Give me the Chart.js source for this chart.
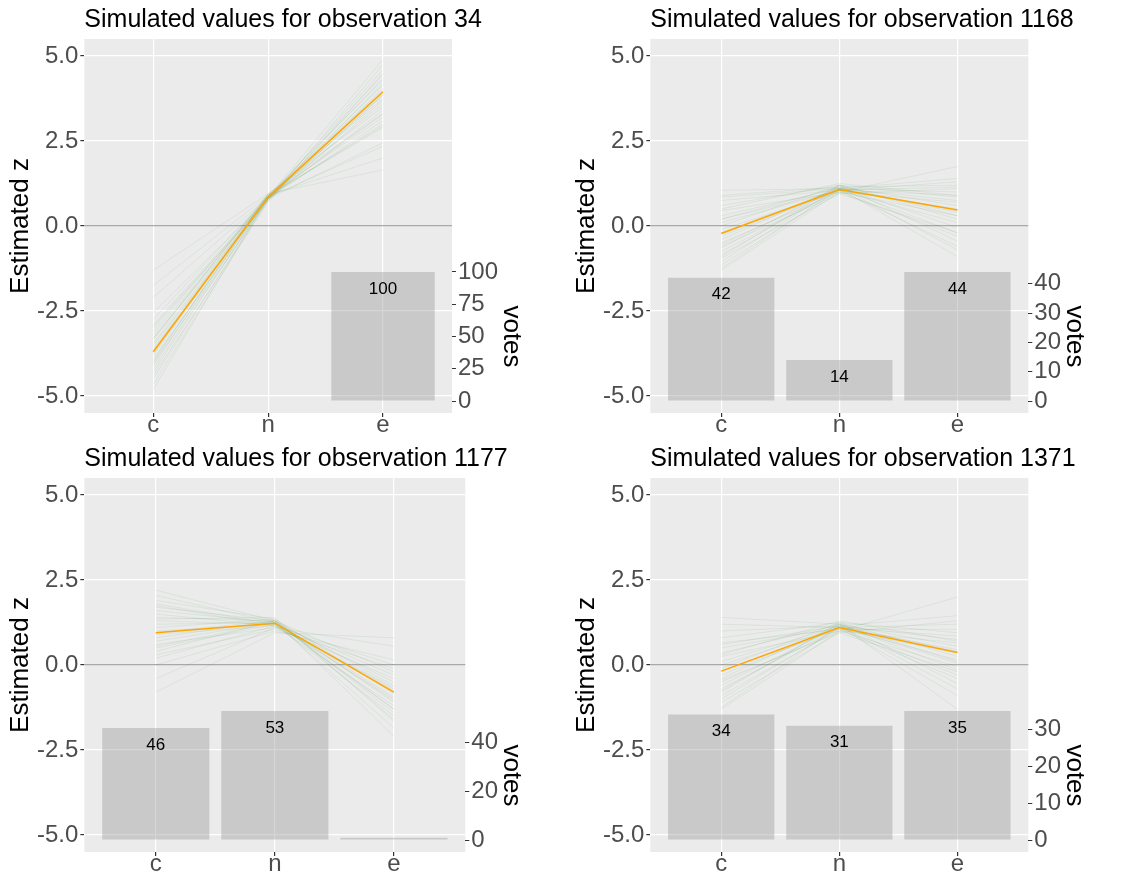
<!DOCTYPE html>
<html>
<head>
<meta charset="utf-8">
<script src="https://cdn.jsdelivr.net/npm/chart.js@4/dist/chart.umd.min.js"></script>
<style>
body{margin:0;background:#fff;}
#wrap{position:relative;width:1125px;height:873px;overflow:hidden;}
.cell{position:absolute;}
</style>
</head>
<body>
<div id="wrap">
  <div class="cell" style="left:0;top:0;width:562px;height:434px"><canvas id="c0"></canvas></div>
  <div class="cell" style="left:566px;top:0;width:559px;height:434px"><canvas id="c1"></canvas></div>
  <div class="cell" style="left:0;top:439px;width:562px;height:434px"><canvas id="c2"></canvas></div>
  <div class="cell" style="left:566px;top:439px;width:559px;height:434px"><canvas id="c3"></canvas></div>
</div>
<script>
// data
const categories = ['c', 'n', 'e'];
const observations = [34, 1168, 1177, 1371];
const meanZ = [
  [-3.7, 0.85, 3.95],
  [-0.22, 1.07, 0.47],
  [0.95, 1.23, -0.8],
  [-0.18, 1.1, 0.37]
];
const votes = [
  [0, 0, 100],
  [42, 14, 44],
  [46, 53, 1],
  [34, 31, 35]
];
const voteTicks = [
  [0, 25, 50, 75, 100],
  [0, 10, 20, 30, 40],
  [0, 20, 40],
  [0, 10, 20, 30]
];
const zTicks = [-5, -2.5, 0, 2.5, 5];

// simulated draws (c, n, e), estimated from the faint green fans
const sim34 = [
  [-1.3,0.95,1.65],[-1.75,0.9,2.0],[-2.1,0.85,2.35],[-2.55,0.8,2.45],[-2.75,0.9,2.9],
  [-2.9,0.85,3.0],[-3.0,0.8,3.1],[-3.1,0.9,3.2],[-3.2,0.85,3.3],[-3.3,0.8,3.4],
  [-3.35,0.95,3.5],[-3.45,0.85,3.6],[-3.5,0.75,3.7],[-3.6,0.9,3.75],[-3.65,0.8,3.85],
  [-3.75,0.85,3.9],[-3.8,0.9,4.0],[-3.9,0.8,4.05],[-3.95,0.85,4.15],[-4.05,0.75,4.2],
  [-4.1,0.9,4.3],[-4.2,0.8,4.35],[-4.3,0.85,4.45],[-4.4,0.7,4.5],[-4.5,0.8,4.6],
  [-4.65,0.75,4.75],[-4.8,0.85,4.9],[-3.3,0.9,2.95],[-2.95,0.8,3.85],[-4.0,0.95,3.3]
];
const sim1168 = [
  [1.05,1.1,-0.9],[0.9,1.15,-0.7],[0.75,1.05,-0.6],[0.6,1.2,-0.45],[0.45,1.0,-0.3],
  [0.3,1.1,-0.2],[0.2,1.15,-0.05],[0.1,1.05,0.1],[0.0,1.2,0.2],[-0.1,1.0,0.3],
  [-0.2,1.1,0.4],[-0.3,1.05,0.5],[-0.4,1.15,0.6],[-0.5,1.0,0.7],[-0.55,1.1,0.75],
  [-0.65,1.2,0.85],[-0.75,1.05,0.9],[-0.85,1.1,1.0],[-0.95,0.95,1.1],[-1.05,1.15,1.2],
  [-1.15,1.05,1.3],[-1.25,1.1,1.4],[-1.3,1.0,1.75],[0.5,1.25,0.9],[-0.6,0.95,-0.2],
  [0.2,1.05,1.15],[-0.9,1.2,0.3],[0.85,1.1,0.45]
];
const sim1177 = [
  [2.2,1.3,-2.1],[2.05,1.25,-1.85],[1.9,1.35,-1.6],[1.8,1.2,-1.5],[1.7,1.3,-1.4],
  [1.6,1.25,-1.3],[1.5,1.15,-1.2],[1.4,1.3,-1.1],[1.3,1.2,-1.0],[1.2,1.25,-0.95],
  [1.1,1.35,-0.85],[1.0,1.2,-0.75],[0.9,1.15,-0.7],[0.8,1.3,-0.6],[0.7,1.25,-0.5],
  [0.6,1.1,-0.4],[0.5,1.2,-0.3],[0.4,1.3,-0.2],[0.3,1.05,-0.1],[0.2,1.15,0.0],
  [0.0,1.0,0.15],[-0.4,1.1,0.55],[-0.8,0.95,0.8],[1.35,1.4,-1.65],[0.55,1.25,-1.05],
  [1.75,1.15,-0.65],[0.95,1.3,-1.3]
];
const sim1371 = [
  [1.4,1.2,-1.3],[1.2,1.1,-0.9],[1.0,1.15,-0.7],[0.8,1.25,-0.55],[0.65,1.05,-0.4],
  [0.5,1.1,-0.3],[0.35,1.2,-0.15],[0.25,1.0,-0.05],[0.1,1.15,0.05],[0.0,1.1,0.15],
  [-0.1,1.25,0.25],[-0.2,1.05,0.35],[-0.3,1.1,0.45],[-0.4,1.2,0.55],[-0.5,1.0,0.65],
  [-0.6,1.15,0.75],[-0.7,1.1,0.85],[-0.8,1.25,0.95],[-0.9,1.05,1.05],[-1.0,1.1,1.2],
  [-1.1,0.95,1.3],[-1.25,1.15,1.45],[-1.3,1.0,2.0],[0.3,1.3,0.7],[-0.45,0.95,-0.2],
  [0.6,1.15,0.4],[-0.75,1.2,0.1]
];
const sims = [sim34, sim1168, sim1177, sim1371];

const FONT = '"Liberation Sans", Arial, sans-serif';
const Z_MIN = -5.5, Z_MAX = 5.5;
const BAR_BASE = -5.15, BAR_TOP = -1.35;   // where 0 and max votes sit on the z scale

const toPts = row => row.map((v, i) => ({x: i + 1, y: v}));

const panelPlugin = {
  id: 'panelPlugin',
  beforeDraw(chart) {
    const {ctx, chartArea: a} = chart;
    ctx.save();
    ctx.fillStyle = '#ebebeb';
    ctx.fillRect(a.left, a.top, a.right - a.left, a.bottom - a.top);
    ctx.restore();
  },
  afterDatasetsDraw(chart) {
    const {ctx, chartArea: a} = chart;
    const idx = chart.data.datasets.findIndex(d => d.type === 'bar');
    const meta = chart.getDatasetMeta(idx);
    const vals = chart.data.datasets[idx].data;
    ctx.save();
    ctx.font = '17px ' + FONT;
    ctx.fillStyle = '#000';
    ctx.textAlign = 'center';
    ctx.textBaseline = 'middle';
    meta.data.forEach((bar, i) => {
      const v = vals[i].y;
      if (!v) return;
      const y = bar.y + 17;
      if (y + 6 > a.bottom) return;
      ctx.fillText(String(v), bar.x, y);
    });
    ctx.restore();
  },
  afterDraw(chart) {
    const {ctx, chartArea: a} = chart;
    // panel title
    ctx.save();
    ctx.font = '25px ' + FONT;
    ctx.fillStyle = '#000';
    ctx.textAlign = 'left';
    ctx.textBaseline = 'alphabetic';
    ctx.fillText(chart.options.plugins.panelPlugin.title, a.left, a.top - 12);
    ctx.restore();
    // secondary axis name, centred on the vote range
    const s = chart.scales.v;
    const vals = chart.data.datasets.find(d => d.type === 'bar').data.map(d => d.y);
    const top = s.getPixelForValue(Math.max(...vals));
    const bot = s.getPixelForValue(0);
    ctx.save();
    ctx.translate(s.right + 11, (top + bot) / 2);
    ctx.rotate(Math.PI / 2);
    ctx.font = '26px ' + FONT;
    ctx.fillStyle = '#000';
    ctx.textAlign = 'center';
    ctx.textBaseline = 'middle';
    ctx.fillText('votes', 0, 0);
    ctx.restore();
  }
};

observations.forEach((obs, p) => {
  const maxV = Math.max(...votes[p]);
  const k = (BAR_TOP - BAR_BASE) / maxV;
  const vMin = (Z_MIN - BAR_BASE) / k;
  const vMax = (Z_MAX - BAR_BASE) / k;

  const datasets = [];
  datasets.push({
    type: 'line', data: toPts(meanZ[p]), borderColor: '#ffa500', borderWidth: 1.5,
    pointRadius: 0, order: 1, yAxisID: 'y'
  });
  sims[p].forEach(row => {
    datasets.push({
      type: 'line', data: toPts(row), borderColor: 'rgba(0,100,0,0.07)', borderWidth: 1,
      pointRadius: 0, order: 2, yAxisID: 'y'
    });
  });
  datasets.push({
    type: 'bar', data: toPts(votes[p]), backgroundColor: 'rgba(150,150,150,0.4)',
    borderWidth: 0, categoryPercentage: 0.9, barPercentage: 1, order: 3, yAxisID: 'v'
  });

  new Chart(document.getElementById('c' + p), {
    type: 'line',
    data: {datasets},
    options: {
      responsive: true,
      maintainAspectRatio: false,
      animation: false,
      layout: {padding: {left: 8, right: 62, top: 39, bottom: 1}},
      plugins: {
        legend: {display: false},
        tooltip: {enabled: false},
        title: {display: false},
        panelPlugin: {title: 'Simulated values for observation ' + obs}
      },
      scales: {
        x: {
          type: 'linear', min: 0.4, max: 3.6, offset: false,
          afterBuildTicks: s => { s.ticks = categories.map((c, i) => ({value: i + 1})); },
          ticks: {
            callback: v => categories[v - 1], color: '#4d4d4d', autoSkip: false, maxRotation: 0,
            font: {family: FONT, size: 24, lineHeight: 1}, padding: -4
          },
          grid: {offset: false, color: '#ffffff', lineWidth: 1.2, tickColor: '#333', tickLength: 4},
          border: {display: false}
        },
        y: {
          type: 'linear', min: Z_MIN, max: Z_MAX, position: 'left',
          afterBuildTicks: s => { s.ticks = zTicks.map(v => ({value: v})); },
          ticks: {
            callback: v => v.toFixed(1), color: '#4d4d4d',
            font: {family: FONT, size: 24}, padding: 2
          },
          grid: {
            color: c => c.tick && c.tick.value === 0 ? '#a9a9a9' : '#ffffff',
            lineWidth: 1.2, tickColor: '#333', tickLength: 4
          },
          border: {display: false},
          title: {
            display: true, text: 'Estimated z', color: '#000',
            font: {family: FONT, size: 26, lineHeight: 1}, padding: {top: 0, bottom: 1}
          }
        },
        v: {
          type: 'linear', min: vMin, max: vMax, position: 'right',
          afterBuildTicks: s => { s.ticks = voteTicks[p].map(v => ({value: v})); },
          ticks: {color: '#4d4d4d', font: {family: FONT, size: 24}, padding: 2},
          grid: {drawOnChartArea: false, tickColor: '#333', tickLength: 4},
          border: {display: false}
        }
      }
    },
    plugins: [panelPlugin]
  });
});
</script>
</body>
</html>
